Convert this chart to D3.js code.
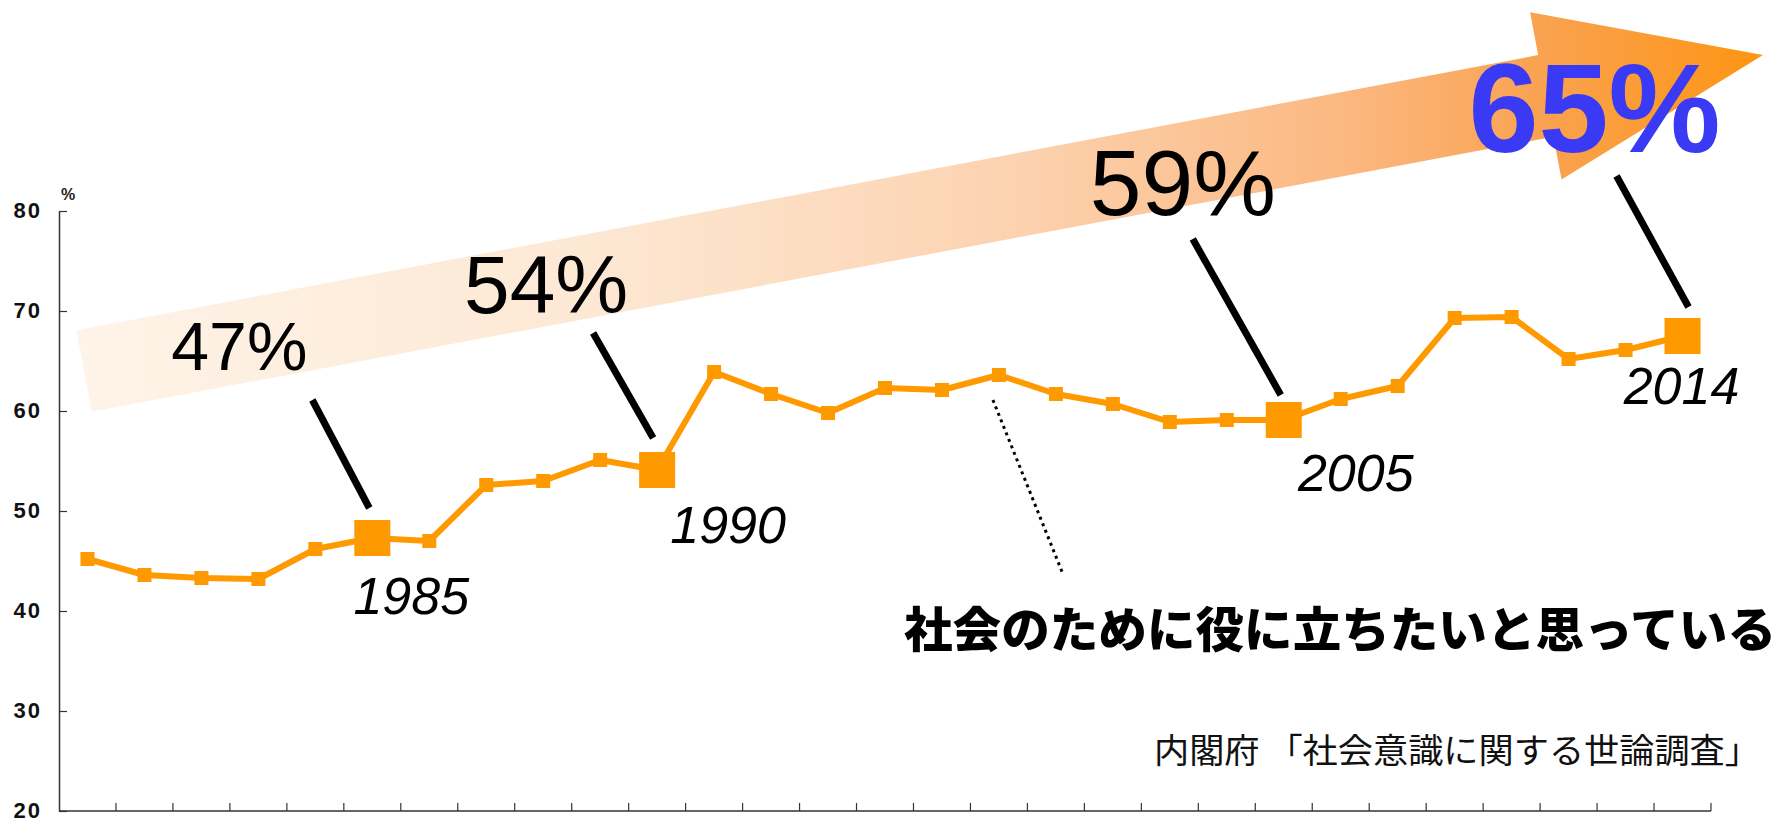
<!DOCTYPE html>
<html>
<head>
<meta charset="utf-8">
<script src="https://cdn.jsdelivr.net/npm/d3@7"></script>
<style>
   html, body { margin: 0; padding: 0; background: #fff; }
   svg { display: block; }
</style>
</head>
<body>
<div id="chart"></div>
<script>
// survey rounds (x categories) and share who want to be useful to society (%)
const surveyYears = ["1980", "1981", "1982", "1983", "1984", "1985", "1986", "1987", "1988", "1989",
   "1990", "1991", "1992", "1994", "1995", "1996", "1997", "1998", "2000", "2002",
   "2004", "2005", "2006", "2007", "2008", "2009", "2010", "2012", "2014"];
const usefulShare = [45.2, 43.6, 43.3, 43.2, 46.2, 47.3, 47.0, 52.6, 53.0, 55.1,
   54.1, 63.9, 61.7, 59.8, 62.3, 62.1, 63.6, 61.7, 60.7, 58.9,
   59.1, 59.1, 61.2, 62.5, 69.3, 69.4, 65.2, 66.1, 67.5];
const yTicks = [20, 30, 40, 50, 60, 70, 80];
const highlightYears = ["1985", "1990", "2005", "2014"];
const highlightLabels = ["47%", "54%", "59%", "65%"];
const seriesLabel = "社会のために役に立ちたいと思っている";
const sourceLabel = "内閣府 「社会意識に関する世論調査」";
const unitLabel = "%";

const chartW = 1783, chartH = 822;
const plotLeft = 59, plotRight = 1711, plotTop = 211, plotBottom = 811;
const orange = "#ff9900";
const latin = "'Liberation Sans', Arial, sans-serif";
const cjk = "'Noto Sans CJK JP', 'Noto Sans', sans-serif";

// layout of the call-outs, relative to each highlighted point
const callouts = [
   { size: 68, bold: false, color: "#000", tx: -133, ty: -168, lx1: -60, ly1: -138, lx2: -3, ly2: -30, yx: 39, yy: 76 },
   { size: 82, bold: false, color: "#000", tx: -111, ty: -157, lx1: -64, ly1: -137, lx2: -4, ly2: -32, yx: 71, yy: 73 },
   { size: 93, bold: false, color: "#000", tx: -101, ty: -205, lx1: -91, ly1: -181, lx2: -3, ly2: -25, yx: 72, yy: 71 },
   { size: 126, bold: true, color: "#3a3af5", tx: -88, ty: -184, lx1: -66, ly1: -160, lx2: 6, ly2: -29, yx: -1, yy: 68 }
];

const svg = d3.select("#chart")
   .append("svg")
   .attr("width", chartW)
   .attr("height", chartH)
   .attr("viewBox", "0 0 " + chartW + " " + chartH);

const x = d3.scaleBand()
   .domain(surveyYears)
   .range([plotLeft, plotRight])
   .padding(0);

const y = d3.scaleLinear()
   .domain([20, 80])
   .range([plotBottom, plotTop]);

const cx = d => x(d) + x.bandwidth() / 2;

// big rising arrow in the background
const defs = svg.append("defs");
const grad = defs.append("linearGradient")
   .attr("id", "arrowGrad")
   .attr("gradientUnits", "userSpaceOnUse")
   .attr("x1", 76).attr("y1", 0)
   .attr("x2", 1765).attr("y2", 0);
[[0, "#fef4e8"], [0.3, "#fde8d4"], [0.55, "#fcd3b1"], [0.75, "#fbb881"], [0.87, "#f9a24f"], [1, "#fe9412"]]
   .forEach(s => grad.append("stop").attr("offset", s[0]).attr("stop-color", s[1]));

const start = [84, 371], tip = [1763, 55];
const len = Math.hypot(tip[0] - start[0], tip[1] - start[1]);
const u = [(tip[0] - start[0]) / len, (tip[1] - start[1]) / len];
const n = [-u[1], u[0]];
const headLen = 221, shaftHalf = 41.5, headHalf = 85;
const base = [tip[0] - u[0] * headLen, tip[1] - u[1] * headLen];
const at = (p, k) => [p[0] + n[0] * k, p[1] + n[1] * k];
const arrowPts = [at(start, -shaftHalf), at(base, -shaftHalf), at(base, -headHalf), tip,
   at(base, headHalf), at(base, shaftHalf), at(start, shaftHalf)];

svg.append("polygon")
   .attr("points", arrowPts.map(p => p.join(",")).join(" "))
   .attr("fill", "url(#arrowGrad)");

// axes
const yAxis = svg.append("g")
   .attr("transform", "translate(" + plotLeft + ",0)")
   .call(d3.axisLeft(y).tickValues(yTicks).tickSizeInner(-8).tickSizeOuter(0).tickPadding(17));
yAxis.select(".domain").attr("stroke", "#333").attr("stroke-width", 1.5);
yAxis.selectAll(".tick line").attr("stroke", "#333").attr("stroke-width", 1.2);
yAxis.selectAll(".tick text")
   .attr("font-family", latin)
   .attr("font-weight", "bold")
   .attr("font-size", 22)
   .attr("letter-spacing", 2)
   .attr("dy", "0.3em")
   .attr("fill", "#111");

svg.append("text")
   .attr("x", plotLeft + 2)
   .attr("y", plotTop - 11)
   .attr("font-family", latin)
   .attr("font-weight", "bold")
   .attr("font-size", 16)
   .attr("fill", "#222")
   .text(unitLabel);

const xAxis = svg.append("g");
xAxis.append("line")
   .attr("x1", plotLeft).attr("x2", plotRight)
   .attr("y1", plotBottom).attr("y2", plotBottom)
   .attr("stroke", "#333")
   .attr("stroke-width", 1.5);
xAxis.selectAll(".xtick")
   .data(surveyYears)
   .enter()
   .append("line")
   .attr("class", "xtick")
   .attr("x1", d => x(d) + x.bandwidth())
   .attr("x2", d => x(d) + x.bandwidth())
   .attr("y1", plotBottom)
   .attr("y2", plotBottom - 8)
   .attr("stroke", "#333")
   .attr("stroke-width", 1.2);

// series line with markers
const series = surveyYears.map((yr, i) => ({ year: yr, value: usefulShare[i] }));

svg.append("path")
   .datum(series)
   .attr("fill", "none")
   .attr("stroke", orange)
   .attr("stroke-width", 6)
   .attr("stroke-linejoin", "round")
   .attr("d", d3.line().x(d => cx(d.year)).y(d => y(d.value)));

svg.selectAll(".marker")
   .data(series)
   .enter()
   .append("rect")
   .attr("class", "marker")
   .each(function(d) {
      const s = highlightYears.includes(d.year) ? 36 : 14;
      d3.select(this)
         .attr("x", cx(d.year) - s / 2)
         .attr("y", y(d.value) - s / 2)
         .attr("width", s)
         .attr("height", s);
   })
   .attr("fill", orange);

// call-outs: value, leader line and year
highlightYears.forEach((yr, i) => {
   const c = callouts[i];
   const px = cx(yr), py = y(usefulShare[surveyYears.indexOf(yr)]);

   svg.append("line")
      .attr("x1", px + c.lx1).attr("y1", py + c.ly1)
      .attr("x2", px + c.lx2).attr("y2", py + c.ly2)
      .attr("stroke", "#000")
      .attr("stroke-width", 7);

   svg.append("text")
      .attr("x", px + c.yx)
      .attr("y", py + c.yy)
      .attr("text-anchor", "middle")
      .attr("font-family", latin)
      .attr("font-style", "italic")
      .attr("font-size", 52)
      .attr("fill", "#000")
      .text(yr);

   svg.append("text")
      .attr("x", px + c.tx)
      .attr("y", py + c.ty)
      .attr("text-anchor", "middle")
      .attr("font-family", latin)
      .attr("font-weight", c.bold ? "bold" : "normal")
      .attr("font-size", c.size)
      .attr("fill", c.color)
      .text(highlightLabels[i]);
});

// series label with dotted pointer
const pointerYear = "1997";
const pX = cx(pointerYear), pY = y(usefulShare[surveyYears.indexOf(pointerYear)]);
svg.append("line")
   .attr("x1", pX - 6).attr("y1", pY + 25)
   .attr("x2", pX + 64).attr("y2", pY + 199)
   .attr("stroke", "#000")
   .attr("stroke-width", 3)
   .attr("stroke-dasharray", "3,4");

svg.append("text")
   .attr("x", 904)
   .attr("y", 647)
   .attr("font-family", cjk)
   .attr("font-weight", 900)
   .attr("font-size", 48)
   .attr("textLength", 872)
   .attr("lengthAdjust", "spacingAndGlyphs")
   .attr("fill", "#000")
   .text(seriesLabel);

svg.append("text")
   .attr("x", 1154)
   .attr("y", 763)
   .attr("font-family", cjk)
   .attr("font-size", 34)
   .attr("textLength", 606)
   .attr("lengthAdjust", "spacingAndGlyphs")
   .attr("fill", "#111")
   .text(sourceLabel);
</script>
</body>
</html>
